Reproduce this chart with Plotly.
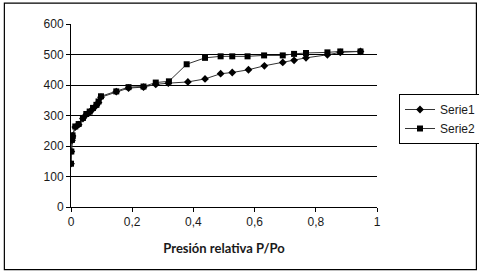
import plotly.graph_objects as go

# Serie1 (adsorption, diamonds)
x1 = [0.000, 0.001, 0.003, 0.004, 0.005, 0.014, 0.025, 0.039, 0.050, 0.061, 0.072, 0.083, 0.090, 0.098,
      0.148, 0.188, 0.237, 0.277, 0.318, 0.382, 0.438, 0.489, 0.527, 0.580, 0.632, 0.692, 0.729, 0.768,
      0.838, 0.880, 0.946]
y1 = [142, 182, 218, 226, 233, 262, 270, 290, 303, 311, 322, 333, 343, 360,
      378, 390, 393, 402, 406, 410, 420, 437, 441, 450, 463, 474, 481, 489,
      499, 507, 510]

# Serie2 (desorption, squares)
x2 = [0.000, 0.001, 0.003, 0.004, 0.005, 0.014, 0.025, 0.039, 0.050, 0.061, 0.072, 0.083, 0.090, 0.098,
      0.148, 0.188, 0.237, 0.277, 0.320, 0.378, 0.438, 0.489, 0.527, 0.577, 0.631, 0.692, 0.729, 0.768,
      0.838, 0.880, 0.946]
y2 = [142, 182, 220, 228, 235, 264, 272, 292, 305, 313, 325, 335, 346, 363,
      379, 393, 395, 408, 412, 468, 489, 494, 494, 494, 497, 497, 502, 505,
      507, 510, 510]

x_ticks = [0, 0.2, 0.4, 0.6, 0.8, 1]
x_tick_labels = ["0", "0,2", "0,4", "0,6", "0,8", "1"]
y_ticks = [0, 100, 200, 300, 400, 500, 600]

W, H = 479, 277
ml, mr, mt, mb = 70.7, 102, 24.3, 69.7
pw, ph = W - ml - mr, H - mt - mb

def px2paper_x(px):
    return (px - ml) / pw

def px2paper_y(py):
    return (H - mb - py) / ph

fig = go.Figure()
fig.add_trace(go.Scatter(
    x=x1, y=y1, mode="lines+markers", name="Serie1",
    line=dict(color="#333333", width=1),
    marker=dict(symbol="diamond", size=6, color="black"),
))
fig.add_trace(go.Scatter(
    x=x2, y=y2, mode="lines+markers", name="Serie2",
    line=dict(color="#333333", width=1),
    marker=dict(symbol="square", size=6, color="black"),
))

fig.update_layout(
    width=W, height=H,
    margin=dict(l=ml, r=mr, t=mt, b=mb, pad=0, autoexpand=False),
    paper_bgcolor="white", plot_bgcolor="white",
    font=dict(family="Liberation Sans, Arial, sans-serif", size=11, color="#1a1a1a"),
    xaxis=dict(
        range=[0, 1], tickvals=x_ticks, ticktext=x_tick_labels, automargin=False,
        showgrid=False, zeroline=False, showline=True, linecolor="black", linewidth=1,
        ticks="outside", ticklen=4, tickcolor="black", tickfont=dict(size=12),
        title=dict(text="<b>Presión relativa P/Po</b>",
                   font=dict(family="Lato, Open Sans, sans-serif", size=13, color="#1a1a1a"),
                   standoff=15),
    ),
    yaxis=dict(
        range=[0, 600], tickvals=y_ticks, automargin=False,
        showgrid=True, gridcolor="black", gridwidth=1, zeroline=False,
        showline=True, linecolor="black", linewidth=1,
        ticks="outside", ticklen=4, tickcolor="black", tickfont=dict(size=12),
    ),
    legend=dict(
        xref="container", yref="container",
        x=399 / W, y=1 - 94 / H, xanchor="left", yanchor="top",
        bordercolor="black", borderwidth=1, bgcolor="white",
        font=dict(size=12, color="#1a1a1a"), itemwidth=30,
        tracegroupgap=0,
    ),
    showlegend=True,
    shapes=[dict(type="rect", xref="paper", yref="paper",
                 x0=px2paper_x(4), x1=px2paper_x(476.5),
                 y0=px2paper_y(270), y1=px2paper_y(3.5),
                 line=dict(color="black", width=1.2), fillcolor="rgba(0,0,0,0)",
                 layer="below")],
)

fig.write_html("out.html", config={"displayModeBar": False},
               post_script="document.body.style.margin='0';document.body.style.overflow='hidden';")
